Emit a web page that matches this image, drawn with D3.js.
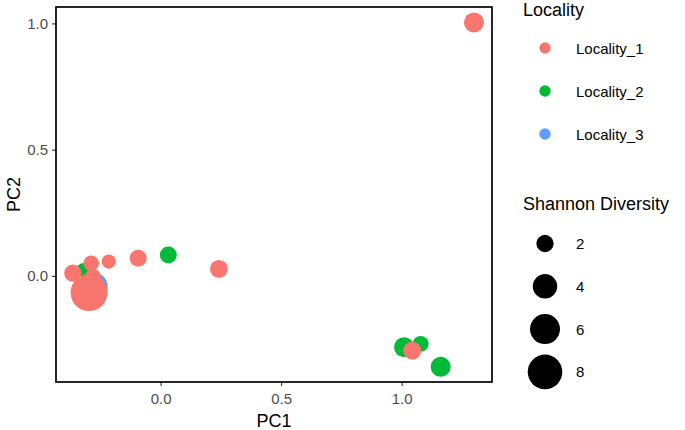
<!DOCTYPE html>
<html>
<head>
<meta charset="utf-8">
<script src="https://cdn.jsdelivr.net/npm/d3@7"></script>
<style>
  body { margin: 0; background: #fff; }
  svg { font-family: "Liberation Sans", Arial, sans-serif; }
</style>
</head>
<body>
<div id="chart-container"></div>
<script>
// values
const localities = ["Locality_1", "Locality_2", "Locality_3"];
const colors = ["#F8766D", "#00BA38", "#619CFF"];
const sizeBreaks = [2, 4, 6, 8];
const xTicks = [0, 0.5, 1];
const yTicks = [0, 0.5, 1];

// drawn in this order (blue under green under pink)
const pointLocality = ["Locality_3", "Locality_2", "Locality_2", "Locality_2", "Locality_2", "Locality_2",
                       "Locality_1", "Locality_1", "Locality_1", "Locality_1", "Locality_1",
                       "Locality_1", "Locality_1", "Locality_1", "Locality_1"];
const pc1 = [-0.280, -0.318, 0.032, 1.010, 1.079, 1.162,
             1.300, 1.044, 0.242, -0.093, -0.215, -0.288, -0.364, -0.281, -0.297];
const pc2 = [-0.043, 0.020, 0.083, -0.282, -0.269, -0.360,
             1.004, -0.296, 0.028, 0.070, 0.057, 0.050, 0.011, -0.004, -0.066];
const shannon = [5.7, 1.7, 1.93, 2.67, 1.7, 2.67,
                 2.67, 2.16, 2.16, 1.93, 1.35, 1.65, 2.0, 1.7, 9.1];

const data = pc1.map((d, i) => ({PC1: d, PC2: pc2[i], loc: pointLocality[i], H: shannon[i]}));

const width = 685, height = 430;
const panel = {left: 56, right: 492, top: 7, bottom: 382};

const svg = d3.select("#chart-container")
    .append("svg")
    .attr("width", width)
    .attr("height", height);

const x = d3.scaleLinear()
    .domain([-0.434, 1.375])
    .range([panel.left, panel.right]);

const y = d3.scaleLinear()
    .domain([-0.42, 1.065])
    .range([panel.bottom, panel.top]);

const r = d3.scaleSqrt().domain([0, 8]).range([0, 17.3]);
const color = d3.scaleOrdinal().domain(localities).range(colors);

// axes
const xAxis = svg.append("g")
    .attr("transform", `translate(0, ${panel.bottom})`)
    .call(d3.axisBottom(x).tickValues(xTicks).tickFormat(d3.format(".1f")).tickSize(4).tickPadding(4));
const yAxis = svg.append("g")
    .attr("transform", `translate(${panel.left}, 0)`)
    .call(d3.axisLeft(y).tickValues(yTicks).tickFormat(d3.format(".1f")).tickSize(4).tickPadding(4));

[xAxis, yAxis].forEach(g => {
    g.select(".domain").remove();
    g.selectAll(".tick line").attr("stroke", "#333").attr("stroke-width", 1.1);
    g.selectAll(".tick text").attr("fill", "#4D4D4D").style("font-size", "15px");
});
xAxis.selectAll(".tick text").attr("dy", "0.95em");

// points
svg.append("g")
    .selectAll("circle")
    .data(data)
    .enter()
    .append("circle")
    .attr("cx", d => x(d.PC1))
    .attr("cy", d => y(d.PC2))
    .attr("r", d => r(d.H))
    .style("fill", d => color(d.loc));

// panel border
svg.append("rect")
    .attr("x", panel.left)
    .attr("y", panel.top)
    .attr("width", panel.right - panel.left)
    .attr("height", panel.bottom - panel.top)
    .attr("fill", "none")
    .attr("stroke", "black")
    .attr("stroke-width", 1.7);

// axis titles
svg.append("text")
    .attr("text-anchor", "middle")
    .attr("x", (panel.left + panel.right) / 2)
    .attr("y", 427)
    .text("PC1")
    .style("font-size", "18px");

svg.append("text")
    .attr("text-anchor", "middle")
    .attr("transform", `translate(20, ${(panel.top + panel.bottom) / 2}) rotate(-90)`)
    .text("PC2")
    .style("font-size", "18px");

// colour legend
svg.append("text")
    .attr("x", 523)
    .attr("y", 16)
    .text("Locality")
    .style("font-size", "18px");

const leg = svg.append("g")
    .selectAll("g")
    .data(localities)
    .enter()
    .append("g")
    .attr("transform", (d, i) => `translate(545, ${48 + i * 43})`);
leg.append("circle").attr("r", 5.7).style("fill", d => color(d));
leg.append("text")
    .attr("x", 31)
    .attr("y", 5.5)
    .text(d => d)
    .style("font-size", "15px");

// size legend
svg.append("text")
    .attr("x", 523)
    .attr("y", 210)
    .text("Shannon Diversity")
    .style("font-size", "18px");

const sleg = svg.append("g")
    .selectAll("g")
    .data(sizeBreaks)
    .enter()
    .append("g")
    .attr("transform", (d, i) => `translate(545, ${243.5 + i * 42.8})`);
sleg.append("circle").attr("r", d => r(d)).style("fill", "black");
sleg.append("text")
    .attr("x", 31)
    .attr("y", 5.5)
    .text(d => d)
    .style("font-size", "15px");
</script>
</body>
</html>
